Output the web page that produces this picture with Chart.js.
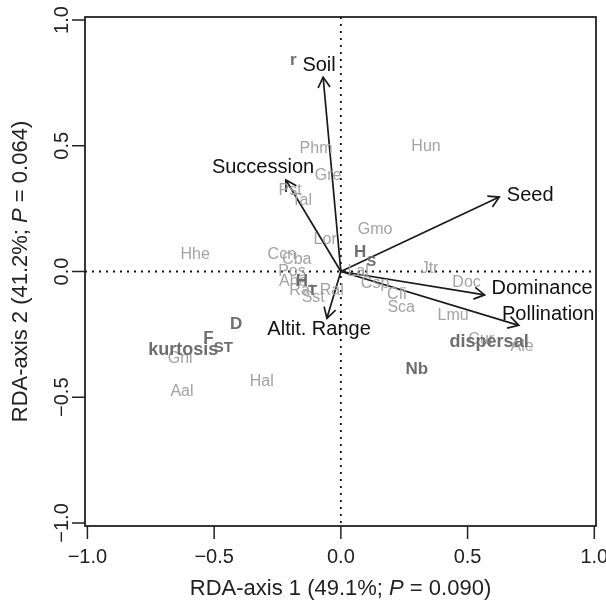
<!DOCTYPE html>
<html>
<head>
<meta charset="utf-8">
<script src="https://cdn.jsdelivr.net/npm/chart.js@4.4.0/dist/chart.umd.min.js"></script>
<style>
  html, body { margin: 0; padding: 0; background: #fff; }
</style>
</head>
<body>
<canvas id="rda" width="606" height="603"></canvas>
<script>
// axis ticks
const xTicks = [-1.0, -0.5, 0.0, 0.5, 1.0];
const yTicks = [-1.0, -0.5, 0.0, 0.5, 1.0];
const tickLabels = ["\u22121.0", "\u22120.5", "0.0", "0.5", "1.0"];

// explanatory variables (arrows)
const arrowNames = ["Soil", "Succession", "Seed", "Dominance", "Pollination", "Altit. Range"];
const arrowX = [-0.070, -0.217, 0.625, 0.567, 0.702, -0.055];
const arrowY = [0.773, 0.364, 0.296, -0.093, -0.214, -0.186];
const arrowLabelX = [-0.086, -0.307, 0.747, 0.794, 0.818, -0.086];
const arrowLabelY = [0.821, 0.412, 0.304, -0.066, -0.171, -0.229];

// species scores (grey)
const speciesNames = ["Phm", "Gre", "Pst", "Tal", "Hun", "Gmo", "Lor", "Hhe", "Ccn", "Cba",
  "Pos", "Ahe", "Rat", "Ral", "Sst", "Lal", "Csp", "Cfi", "Jtr", "Doc",
  "Sca", "Lmu", "Cur", "Ale", "Gni", "Aal", "Hal"];
const speciesX = [-0.098, -0.050, -0.200, -0.154, 0.336, 0.135, -0.062, -0.575, -0.233, -0.174,
  -0.193, -0.188, -0.154, -0.036, -0.109, 0.068, 0.135, 0.221, 0.350, 0.496,
  0.238, 0.443, 0.554, 0.715, -0.634, -0.627, -0.312];
const speciesY = [0.487, 0.380, 0.321, 0.280, 0.495, 0.166, 0.125, 0.066, 0.066, 0.049,
  -0.001, -0.041, -0.074, -0.074, -0.105, -0.002, -0.047, -0.093, 0.011, -0.046,
  -0.144, -0.177, -0.272, -0.300, -0.348, -0.478, -0.438];

// genetic / trait variables (bold)
const traitNames = ["r", "H", "H", "D", "F", "kurtosis", "Nb", "dispersal"];
const traitSubs = ["", "S", "T", "", "ST", "", "", ""];
const traitX = [-0.188, 0.076, -0.154, -0.413, -0.522, -0.622, 0.300, 0.585];
const traitY = [0.838, 0.075, -0.041, -0.210, -0.266, -0.312, -0.389, -0.280];

const FONT = '"Liberation Sans", Arial, Helvetica, sans-serif';

const datasets = arrowNames.map((name, i) => ({
  label: name,
  data: [{ x: 0, y: 0 }, { x: arrowX[i], y: arrowY[i] }],
  showLine: true,
  borderColor: "#1a1a1a",
  borderWidth: 1.7,
  pointRadius: 0,
  clip: false,
}));

const decor = {
  id: "decor",
  beforeDatasetsDraw(chart) {
    const { ctx, chartArea: a, scales: { x, y } } = chart;
    ctx.save();
    ctx.strokeStyle = "#111";
    ctx.lineWidth = 1.8;
    ctx.setLineDash([2, 5]);
    ctx.beginPath();
    ctx.moveTo(a.left, y.getPixelForValue(0));
    ctx.lineTo(a.right, y.getPixelForValue(0));
    ctx.moveTo(x.getPixelForValue(0), a.top);
    ctx.lineTo(x.getPixelForValue(0), a.bottom);
    ctx.stroke();
    ctx.restore();
  },
  afterDatasetsDraw(chart) {
    const { ctx, chartArea: a, scales: { x, y } } = chart;
    ctx.save();

    // arrow heads
    ctx.strokeStyle = "#1a1a1a";
    ctx.lineWidth = 1.7;
    arrowNames.forEach((_, i) => {
      const x0 = x.getPixelForValue(0), y0 = y.getPixelForValue(0);
      const x1 = x.getPixelForValue(arrowX[i]), y1 = y.getPixelForValue(arrowY[i]);
      const ang = Math.atan2(y1 - y0, x1 - x0);
      const len = 12, spread = Math.PI / 6;
      ctx.beginPath();
      ctx.moveTo(x1 - len * Math.cos(ang - spread), y1 - len * Math.sin(ang - spread));
      ctx.lineTo(x1, y1);
      ctx.lineTo(x1 - len * Math.cos(ang + spread), y1 - len * Math.sin(ang + spread));
      ctx.stroke();
    });

    ctx.textAlign = "center";
    ctx.textBaseline = "middle";

    // species labels
    ctx.fillStyle = "#a3a3a3";
    ctx.font = "16px " + FONT;
    speciesNames.forEach((s, i) => {
      ctx.fillText(s, x.getPixelForValue(speciesX[i]), y.getPixelForValue(speciesY[i]));
    });

    // trait labels with subscripts
    ctx.fillStyle = "#6e6e6e";
    traitNames.forEach((s, i) => {
      const size = s.length > 3 ? 18 : 17;
      ctx.font = "bold " + size + "px " + FONT;
      const cx = x.getPixelForValue(traitX[i]), cy = y.getPixelForValue(traitY[i]);
      ctx.textAlign = "center";
      ctx.fillText(s, cx, cy);
      if (traitSubs[i]) {
        const w = ctx.measureText(s).width;
        ctx.font = "bold 15px " + FONT;
        ctx.textAlign = "left";
        ctx.fillText(traitSubs[i], cx + w / 2, cy + 9);
      }
    });
    ctx.textAlign = "center";

    // arrow labels
    ctx.fillStyle = "#111";
    ctx.font = "20px " + FONT;
    arrowNames.forEach((s, i) => {
      ctx.fillText(s, x.getPixelForValue(arrowLabelX[i]), y.getPixelForValue(arrowLabelY[i]));
    });

    // frame
    ctx.strokeStyle = "#222";
    ctx.lineWidth = 1.8;
    ctx.strokeRect(a.left, a.top, a.right - a.left, a.bottom - a.top);

    // ticks
    ctx.lineWidth = 1.5;
    ctx.beginPath();
    xTicks.forEach(v => {
      const p = x.getPixelForValue(v);
      ctx.moveTo(p, a.bottom);
      ctx.lineTo(p, a.bottom + 13);
    });
    yTicks.forEach(v => {
      const p = y.getPixelForValue(v);
      ctx.moveTo(a.left, p);
      ctx.lineTo(a.left - 13, p);
    });
    ctx.stroke();

    ctx.fillStyle = "#222";
    ctx.font = "20px " + FONT;
    xTicks.forEach((v, i) => {
      ctx.fillText(tickLabels[i], x.getPixelForValue(v), 557);
    });
    yTicks.forEach((v, i) => {
      ctx.save();
      ctx.translate(62, y.getPixelForValue(v));
      ctx.rotate(-Math.PI / 2);
      ctx.fillText(tickLabels[i], 0, 0);
      ctx.restore();
    });

    // axis titles with italic P
    const drawTitle = (parts, cx, cy, rot) => {
      ctx.save();
      ctx.translate(cx, cy);
      ctx.rotate(rot);
      ctx.textAlign = "left";
      let total = 0;
      parts.forEach(p => { ctx.font = (p[1] ? "italic " : "") + "22px " + FONT; total += ctx.measureText(p[0]).width; });
      let pos = -total / 2;
      parts.forEach(p => {
        ctx.font = (p[1] ? "italic " : "") + "22px " + FONT;
        ctx.fillText(p[0], pos, 0);
        pos += ctx.measureText(p[0]).width;
      });
      ctx.restore();
    };
    const midX = (a.left + a.right) / 2, midY = (a.top + a.bottom) / 2;
    drawTitle([["RDA-axis 1 (49.1%; ", false], ["P", true], [" = 0.090)", false]], midX, 589, 0);
    drawTitle([["RDA-axis 2 (41.2%; ", false], ["P", true], [" = 0.064)", false]], 21, midY, -Math.PI / 2);

    ctx.restore();
  }
};

new Chart(document.getElementById("rda"), {
  type: "scatter",
  data: { datasets },
  options: {
    responsive: false,
    animation: false,
    events: [],
    layout: { padding: { left: 85, right: 10, top: 17, bottom: 77 } },
    plugins: { legend: { display: false }, tooltip: { enabled: false } },
    scales: {
      x: { type: "linear", min: -1.0095, max: 1.0067, display: false },
      y: { type: "linear", min: -1.012, max: 1.012, display: false }
    }
  },
  plugins: [decor]
});
</script>
</body>
</html>
